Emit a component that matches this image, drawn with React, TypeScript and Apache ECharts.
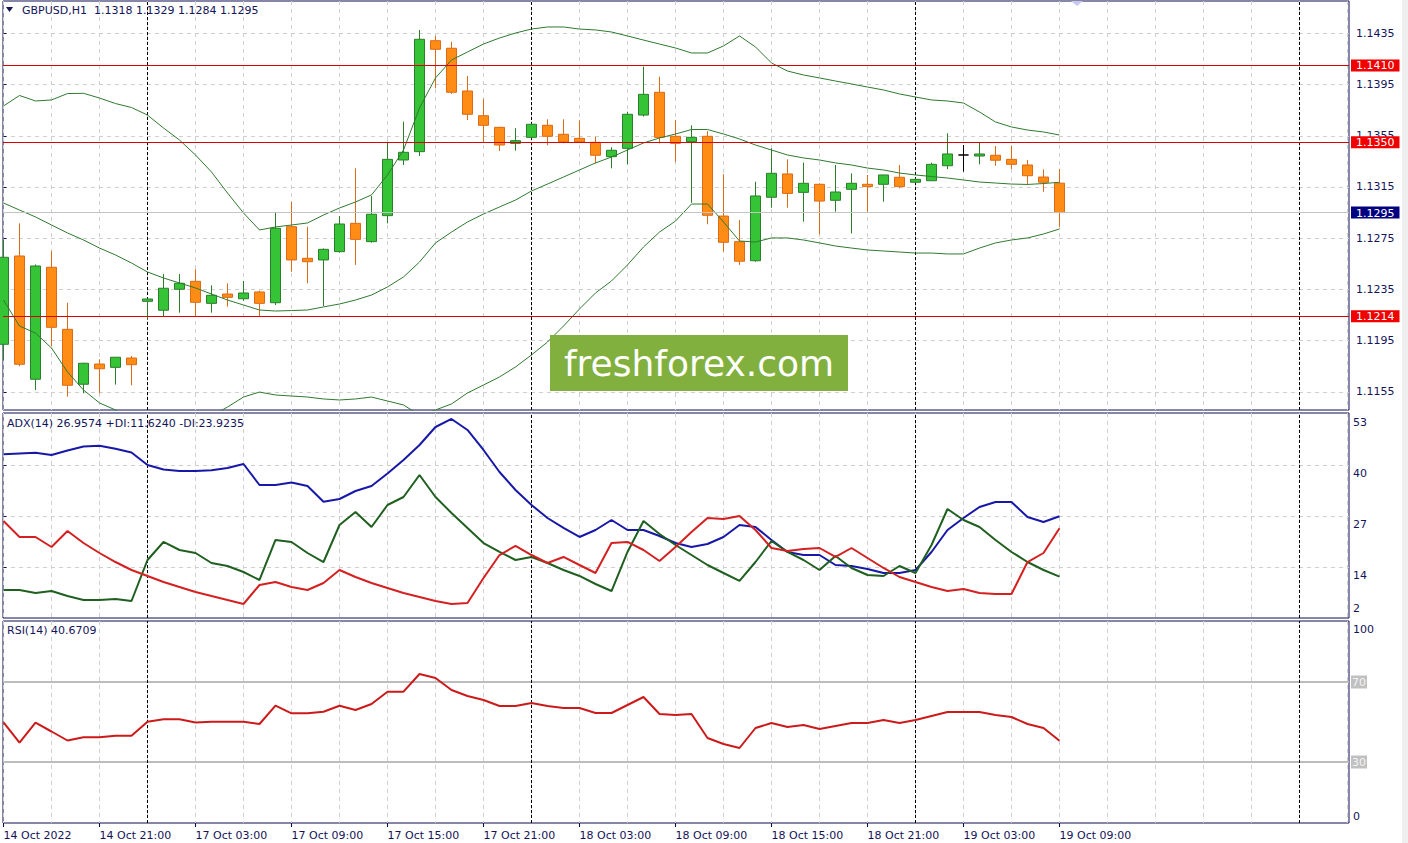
import React, { useEffect, useRef } from "react";
import * as echarts from "echarts";

// ---- data (hourly bars, index 0 = 14 Oct 15:00) ----
const opens = [1.11921,1.12611,1.11648,1.12523,1.12038,1.11609,1.11767,1.11741,1.11814,1.12257,1.12187,1.12351,1.12413,1.12241,1.12314,1.12277,1.12330,1.12246,1.12840,1.12593,1.12580,1.12645,1.12866,1.12723,1.12926,1.13361,1.13426,1.14293,1.14234,1.13900,1.13707,1.13616,1.13491,1.13538,1.13632,1.13562,1.13530,1.13499,1.13387,1.13452,1.13712,1.13890,1.13546,1.13504,1.13546,1.12923,1.12723,1.12574,1.13070,1.13252,1.13108,1.13171,1.13046,1.13132,1.13171,1.13171,1.13226,1.13187,1.13199,1.13316,1.13400,1.13392,1.13398,1.13366,1.13322,1.13228,1.13180];
const highs = [1.12736,1.12866,1.12545,1.12650,1.12246,1.11777,1.11804,1.11822,1.11830,1.12277,1.12470,1.12470,1.12507,1.12382,1.12398,1.12416,1.12340,1.12952,1.13035,1.12840,1.12670,1.12923,1.13296,1.13080,1.13504,1.13660,1.14377,1.14330,1.14285,1.14017,1.13838,1.13620,1.13609,1.13645,1.13679,1.13679,1.13671,1.13543,1.13460,1.13738,1.14090,1.14012,1.13673,1.13632,1.13587,1.13249,1.12892,1.13191,1.13452,1.13366,1.13340,1.13179,1.13322,1.13257,1.13244,1.13244,1.13322,1.13218,1.13340,1.13570,1.13478,1.13496,1.13470,1.13470,1.13361,1.13288,1.13290];
const lows = [1.11798,1.11750,1.11564,1.11908,1.11512,1.11538,1.11538,1.11606,1.11601,1.12111,1.12142,1.12168,1.12137,1.12168,1.12215,1.12260,1.12142,1.12228,1.12488,1.12398,1.12220,1.12637,1.12541,1.12715,1.12866,1.13322,1.13392,1.13921,1.13877,1.13673,1.13496,1.13431,1.13434,1.13530,1.13476,1.13491,1.13500,1.13335,1.13296,1.13327,1.13700,1.13491,1.13348,1.13027,1.12859,1.12645,1.12541,1.12566,1.12988,1.12988,1.12879,1.12780,1.12957,1.12788,1.12957,1.13035,1.13140,1.13180,1.13199,1.13290,1.13270,1.13327,1.13316,1.13290,1.13166,1.13113,1.12840];
const closes = [1.12601,1.11765,1.12533,1.12054,1.11601,1.11773,1.11730,1.11820,1.11762,1.12275,1.12359,1.12398,1.12249,1.12304,1.12288,1.12322,1.12241,1.12827,1.12580,1.12566,1.12663,1.12861,1.12741,1.12937,1.13366,1.13421,1.14304,1.14226,1.13890,1.13718,1.13632,1.13478,1.13512,1.13640,1.13546,1.13502,1.13502,1.13398,1.13437,1.13718,1.13874,1.13538,1.13491,1.13538,1.12929,1.12718,1.12570,1.13080,1.13257,1.13100,1.13179,1.13040,1.13111,1.13179,1.13153,1.13244,1.13153,1.13210,1.13327,1.13408,1.13400,1.13408,1.13359,1.13327,1.13238,1.13187,1.12950];

const bbUpper = [1.13783,1.13865,1.13822,1.13830,1.13880,1.13882,1.13845,1.13802,1.13771,1.13712,1.13611,1.13517,1.13400,1.13267,1.13103,1.12947,1.12814,1.12838,1.12853,1.12869,1.12931,1.12986,1.13033,1.13088,1.13244,1.13439,1.13767,1.14002,1.14142,1.14205,1.14267,1.14314,1.14353,1.14384,1.14400,1.14400,1.14384,1.14377,1.14361,1.14330,1.14298,1.14267,1.14236,1.14197,1.14197,1.14252,1.14330,1.14244,1.14119,1.14056,1.14025,1.14002,1.13978,1.13955,1.13931,1.13908,1.13877,1.13853,1.13830,1.13822,1.13806,1.13736,1.13658,1.13619,1.13595,1.13580,1.13556];
const bbMiddle = [1.13025,1.12970,1.12916,1.12853,1.12791,1.12736,1.12673,1.12619,1.12556,1.12486,1.12439,1.12400,1.12361,1.12314,1.12267,1.12228,1.12189,1.12181,1.12185,1.12189,1.12213,1.12236,1.12267,1.12306,1.12369,1.12447,1.12564,1.12713,1.12798,1.12877,1.12939,1.12994,1.13048,1.13119,1.13173,1.13228,1.13283,1.13338,1.13384,1.13439,1.13494,1.13533,1.13564,1.13599,1.13599,1.13564,1.13525,1.13478,1.13439,1.13400,1.13377,1.13361,1.13338,1.13322,1.13298,1.13283,1.13259,1.13244,1.13232,1.13220,1.13205,1.13189,1.13181,1.13173,1.13170,1.13177,1.13187];
const bbLower = [1.12267,1.12064,1.12009,1.11892,1.11705,1.11564,1.11463,1.11408,1.11330,1.11259,1.11267,1.11283,1.11322,1.11361,1.11431,1.11509,1.11548,1.11525,1.11517,1.11509,1.11494,1.11486,1.11494,1.11509,1.11478,1.11447,1.11369,1.11408,1.11455,1.11541,1.11603,1.11666,1.11744,1.11838,1.11939,1.12064,1.12197,1.12322,1.12416,1.12541,1.12681,1.12798,1.12884,1.13017,1.13017,1.12877,1.12728,1.12720,1.12752,1.12752,1.12736,1.12713,1.12689,1.12673,1.12658,1.12650,1.12642,1.12634,1.12634,1.12627,1.12627,1.12673,1.12713,1.12736,1.12752,1.12783,1.12822];

const adx = [42.70,42.91,43.11,42.53,43.67,44.69,44.89,44.13,43.16,39.99,38.84,38.46,38.46,38.64,39.22,40.24,34.90,34.90,35.54,34.65,30.66,31.34,33.38,34.65,37.83,41.26,45.07,49.64,51.68,48.88,43.80,38.21,33.63,29.82,26.52,23.98,21.69,23.47,26.01,23.47,23.47,21.94,20.16,19.15,19.91,21.69,24.74,24.23,20.93,17.88,17.11,17.11,14.57,14.32,13.56,12.54,12.54,13.30,17.88,23.47,26.52,29.31,30.58,30.58,26.77,25.50,26.96];
const minusDI = [25.75,21.69,21.69,19.15,23.21,20.16,17.62,15.33,13.30,11.78,10.25,8.98,7.71,6.69,5.68,4.66,9.49,10.25,8.98,8.22,10.00,13.30,11.52,10.00,8.73,7.46,6.44,5.42,4.66,4.92,11.27,17.11,19.40,17.11,15.08,16.61,14.57,12.54,20.16,20.42,18.38,15.59,19.15,22.96,26.52,26.26,27.02,23.47,18.89,18.13,18.64,18.89,16.61,18.89,16.35,13.81,11.52,10.25,8.98,7.96,8.47,7.46,7.20,7.20,15.33,17.62,23.92];
const plusDI = [8.22,8.22,7.46,7.96,6.69,5.68,5.68,5.93,5.42,15.84,20.42,18.38,17.62,15.08,14.32,12.79,10.76,20.93,20.42,17.62,15.33,24.74,28.04,24.23,29.82,31.85,37.44,31.85,27.79,23.98,20.16,17.88,15.84,16.61,15.08,13.30,11.78,9.74,7.96,17.88,25.75,22.45,19.65,17.11,14.57,12.54,10.51,15.33,20.67,17.88,15.84,13.30,16.86,13.81,12.03,11.78,14.32,12.54,19.65,28.80,26.01,24.23,20.93,17.88,15.33,13.30,11.62];
const rsi = [49.85,39.65,49.65,45.25,40.75,42.35,42.35,43.10,43.15,50.15,51.35,51.35,49.75,50.15,50.15,50.15,49.00,58.15,54.35,54.35,55.15,58.15,56.00,59.00,65.15,65.15,74.00,72.00,66.00,63.00,61.00,58.00,58.00,59.50,58.00,57.00,57.00,54.50,54.50,58.50,62.50,54.00,53.50,54.00,42.00,39.00,37.00,47.00,49.50,47.50,48.50,46.50,48.00,49.50,49.50,51.00,49.50,51.00,53.00,55.00,55.00,55.00,53.50,52.50,49.00,47.00,40.67];

const timeLabels = ["14 Oct 2022","14 Oct 21:00","17 Oct 03:00","17 Oct 09:00","17 Oct 15:00","17 Oct 21:00","18 Oct 03:00","18 Oct 09:00","18 Oct 15:00","18 Oct 21:00","19 Oct 03:00","19 Oct 09:00"];
const priceTicks = [1.1155,1.1195,1.1235,1.1275,1.1315,1.1355,1.1395,1.1435];
const levelLines = [1.1410, 1.1350, 1.1214];
const bidPrice = 1.1295;
const adxTicks = [14, 27, 40];
const adxTopLabels = [14, 27, 40, 53];
const adxBottomLabels = [2];
const rsiLevels = [30, 70];
const separators = [9, 33, 57, 81];

// ---- layout constants ----
const BAR_STEP = 6;
const GRID_STEP = 3;
const X_MIN = -0.03125;
const X_MAX = 84.09375;
const P_MIN = 1.114078;
const P_MAX = 1.146031;
const FONT = "'DejaVu Sans', Verdana, sans-serif";
const NAVY = "#14145a";
const FRAME = "#0c0c50";
const DASH = { color: "#cfcfcf", width: 1, type: [4, 4] as any };

const idx = opens.map((_, i) => i);
const gridTicks: number[] = [];
for (let v = 0; v <= X_MAX; v += GRID_STEP) gridTicks.push(v);
const labelTicks = timeLabels.map((_, i) => i * BAR_STEP);

function xAxisFor(gridIndex: number): any {
  return {
    type: "value", gridIndex, min: X_MIN, max: X_MAX,
    axisLine: { show: false, onZero: false },
    axisTick: { show: false, customValues: gridTicks },
    axisLabel: { show: false },
    splitLine: { show: true, lineStyle: DASH },
  };
}

const labelBase = { color: NAVY, fontFamily: FONT, fontSize: 11 };

function sepLine(): any {
  return {
    silent: true, z: 1, precision: 6, symbol: ["none", "none"], label: { show: false },
    lineStyle: { color: "#000", width: 1, type: [3, 2] },
    data: separators.map((v) => ({ xAxis: v })),
  };
}

export default function App() {
  const ref = useRef<HTMLDivElement>(null);
  useEffect(() => {
    if (!ref.current) return;
    const chart = echarts.init(ref.current, null, { renderer: "svg" });
    const option: any = {
      animation: false,
      backgroundColor: "#ffffff",
      grid: [
        { left: 3, top: 1, width: 1346, height: 409, show: true, borderColor: FRAME, borderWidth: 1 },
        { left: 3, top: 413, width: 1346, height: 205, show: true, borderColor: FRAME, borderWidth: 1 },
        { left: 3, top: 621, width: 1346, height: 202, show: true, borderColor: FRAME, borderWidth: 1 },
      ],
      xAxis: [
        xAxisFor(0),
        xAxisFor(1),
        xAxisFor(2),
        {
          type: "value", gridIndex: 2, min: X_MIN, max: X_MAX, position: "bottom",
          axisLine: { show: false, onZero: false },
          axisTick: { show: true, length: 4, customValues: labelTicks, lineStyle: { color: FRAME } },
          axisLabel: {
            ...labelBase, customValues: labelTicks, align: "left", margin: 7,
            formatter: (v: number) => timeLabels[Math.round(v / BAR_STEP)] ?? "",
          },
          splitLine: { show: false },
        },
      ],
      yAxis: [
        {
          type: "value", gridIndex: 0, position: "right", min: P_MIN, max: P_MAX,
          axisLine: { show: false },
          axisTick: { show: true, length: 3, customValues: priceTicks, lineStyle: { color: FRAME } },
          axisLabel: { ...labelBase, customValues: priceTicks, margin: 7, formatter: (v: number) => v.toFixed(4) },
          splitLine: { show: true, lineStyle: DASH },
        },
        {
          type: "value", gridIndex: 0, position: "right", min: P_MIN, max: P_MAX,
          axisLine: { show: false }, axisTick: { show: false }, splitLine: { show: false },
          axisLabel: {
            ...labelBase, customValues: [...levelLines, bidPrice], margin: 2,
            formatter: (v: number) => (Math.abs(v - bidPrice) < 1e-7 ? `{b|${v.toFixed(4)}}` : `{r|${v.toFixed(4)}}`),
            rich: {
              r: { backgroundColor: "#f00000", color: "#ffffff", fontFamily: FONT, fontSize: 11, padding: [1, 5, 0, 5], lineHeight: 12 },
              b: { backgroundColor: "#000080", color: "#ffffff", fontFamily: FONT, fontSize: 11, padding: [1, 5, 0, 5], lineHeight: 12 },
            },
          },
        },
        {
          type: "value", gridIndex: 1, position: "right", min: 1.1, max: 53.2,
          axisLine: { show: false },
          axisTick: { show: true, length: 3, customValues: adxTicks, lineStyle: { color: FRAME } },
          axisLabel: { ...labelBase, customValues: adxTopLabels, verticalAlign: "top", padding: [3, 0, 0, 0], margin: 4 },
          splitLine: { show: true, lineStyle: DASH },
        },
        {
          type: "value", gridIndex: 1, position: "right", min: 1.1, max: 53.2,
          axisLine: { show: false }, axisTick: { show: false }, splitLine: { show: false },
          axisLabel: { ...labelBase, customValues: adxBottomLabels, verticalAlign: "bottom", margin: 4 },
        },
        {
          type: "value", gridIndex: 2, position: "right", min: -0.5, max: 100.5,
          axisLine: { show: false },
          axisTick: { show: false, customValues: rsiLevels },
          axisLabel: {
            ...labelBase, customValues: rsiLevels, margin: 2, color: "#f4f4f4",
            backgroundColor: "#c0c0c0", padding: [1, 1, 0, 1], lineHeight: 12,
          },
          splitLine: { show: true, lineStyle: { color: "#bdbdbd", width: 2 } },
        },
        {
          type: "value", gridIndex: 2, position: "right", min: -0.5, max: 100.5,
          axisLine: { show: false }, axisTick: { show: false }, splitLine: { show: false },
          axisLabel: { ...labelBase, customValues: [100], verticalAlign: "top", padding: [2, 0, 0, 0], margin: 4 },
        },
        {
          type: "value", gridIndex: 2, position: "right", min: -0.5, max: 100.5,
          axisLine: { show: false }, axisTick: { show: false }, splitLine: { show: false },
          axisLabel: { ...labelBase, customValues: [0], verticalAlign: "bottom", margin: 4 },
        },
      ],
      series: [
        {
          type: "candlestick", xAxisIndex: 0, yAxisIndex: 0, z: 2,
          data: idx.map((i) => [i, opens[i], closes[i], lows[i], highs[i]]),
          encode: { x: 0, y: [1, 2, 3, 4] },
          barWidth: 10,
          itemStyle: {
            color: "#34c435", color0: "#ff8c14",
            borderColor: "#2c7d2c", borderColor0: "#dd6a16",
            borderColorDoji: "#000000", borderWidth: 1,
          },
        },
        {
          type: "line", xAxisIndex: 0, yAxisIndex: 0, z: 3, symbol: "none",
          data: idx.map((i) => [i, bbUpper[i]]),
          lineStyle: { color: "#2f7a2f", width: 1 },
          markLine: {
            silent: true, precision: 6, symbol: ["none", "none"], label: { show: false },
            lineStyle: { color: "#d80000", width: 1, type: "solid" },
            data: [
              ...levelLines.map((v) => ({ yAxis: v })),
              { yAxis: bidPrice, lineStyle: { color: "#c4c4c4", width: 1, type: "solid" } },
            ],
          },
        },
        {
          type: "line", xAxisIndex: 0, yAxisIndex: 0, z: 3, symbol: "none",
          data: idx.map((i) => [i, bbMiddle[i]]),
          lineStyle: { color: "#2f7a2f", width: 1 },
          markLine: sepLine(),
        },
        {
          type: "line", xAxisIndex: 0, yAxisIndex: 0, z: 3, symbol: "none",
          data: idx.map((i) => [i, bbLower[i]]),
          lineStyle: { color: "#2f7a2f", width: 1 },
        },
        {
          type: "line", xAxisIndex: 1, yAxisIndex: 2, z: 3, symbol: "none",
          data: idx.map((i) => [i, adx[i]]),
          lineStyle: { color: "#1818a8", width: 2 },
          markLine: sepLine(),
        },
        {
          type: "line", xAxisIndex: 1, yAxisIndex: 2, z: 3, symbol: "none",
          data: idx.map((i) => [i, plusDI[i]]),
          lineStyle: { color: "#1f5f1f", width: 2 },
        },
        {
          type: "line", xAxisIndex: 1, yAxisIndex: 2, z: 3, symbol: "none",
          data: idx.map((i) => [i, minusDI[i]]),
          lineStyle: { color: "#d42020", width: 2 },
        },
        {
          type: "line", xAxisIndex: 2, yAxisIndex: 4, z: 3, symbol: "none",
          data: idx.map((i) => [i, rsi[i]]),
          lineStyle: { color: "#cc1a1a", width: 2 },
          markLine: sepLine(),
        },
      ],
      graphic: [
        { type: "rect", z: 50, shape: { x: 1402, y: 0, width: 6, height: 843 }, style: { fill: "#efefef" } },
        { type: "polygon", z: 50, shape: { points: [[6, 7], [13, 7], [9.5, 12]] }, style: { fill: NAVY } },
        { type: "polygon", z: 50, shape: { points: [[1071, 1], [1083, 1], [1077, 6]] }, style: { fill: "#c8c8ee" } },
        { type: "text", z: 50, x: 22, y: 5, style: { text: "GBPUSD,H1  1.1318 1.1329 1.1284 1.1295", fill: NAVY, font: `11px ${FONT}` } },
        { type: "text", z: 50, x: 7, y: 418, style: { text: "ADX(14) 26.9574 +DI:11.6240 -DI:23.9235", fill: NAVY, font: `11px ${FONT}` } },
        { type: "text", z: 50, x: 7, y: 625, style: { text: "RSI(14) 40.6709", fill: NAVY, font: `11px ${FONT}` } },
        { type: "rect", z: 60, shape: { x: 550, y: 335, width: 298, height: 56 }, style: { fill: "#82b03e" } },
        {
          type: "text", z: 61, x: 699, y: 363,
          style: { text: "freshforex.com", fill: "#ffffff", font: `36px ${FONT}`, align: "center", verticalAlign: "middle" },
        },
      ],
    };
    chart.setOption(option);
    return () => chart.dispose();
  }, []);
  return (
    <div style={{ position: "fixed", left: 0, top: 0, width: 1408, height: 843, background: "#fff" }}>
      <div ref={ref} style={{ width: 1408, height: 843 }} />
    </div>
  );
}
